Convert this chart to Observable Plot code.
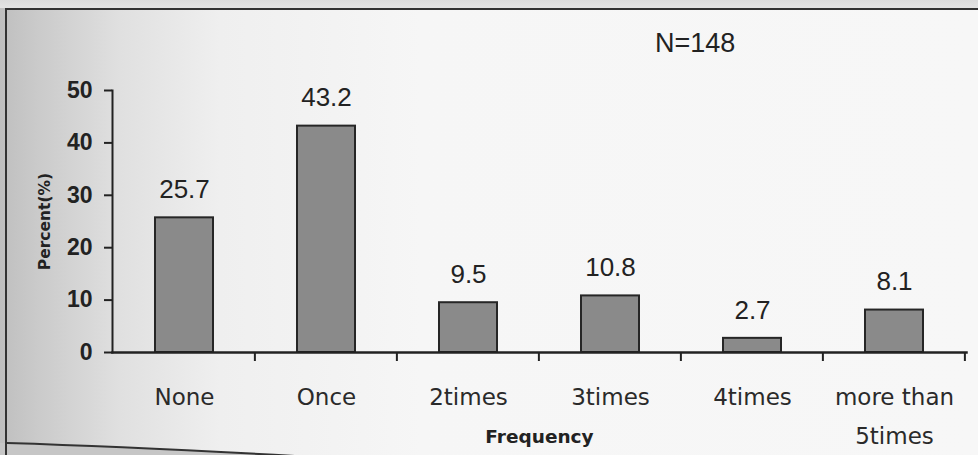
<!DOCTYPE html>
<html>
<head>
<meta charset="utf-8">
<script src="https://cdn.jsdelivr.net/npm/d3@7"></script>
<script src="https://cdn.jsdelivr.net/npm/@observablehq/plot@0.6"></script>
<style>
  html, body { margin: 0; padding: 0; }
  body { width: 978px; height: 455px; overflow: hidden; background: #d4d4d4; }
  #page {
    position: relative; width: 978px; height: 455px;
    background: linear-gradient(to bottom, #dcdcdc 0px, #e4e4e4 8px, transparent 8px),
                linear-gradient(to right, #bfbfbf 0px, #cbcbcb 40px, #e0e0e0 120px, #efefef 220px, #f6f6f6 420px, #f7f7f7 978px);
  }
  #frame {
    position: absolute; left: 5px; top: 8px; width: 990px; height: 500px;
    border-top: 2px solid #333; border-left: 2px solid #333;
  }
  #edge { position: absolute; left: 0; top: 0; }
  #n {
    position: absolute; left: 655px; top: 28px;
    font: 27px "Liberation Sans", Arial, sans-serif; color: #222;
  }
  #chart { position: absolute; left: 0; top: 0; }
</style>
</head>
<body>
<div id="page">
  <svg id="edge" width="978" height="455">
    <path d="M0,443 L7,443 Q140,447 330,458 L0,458 Z" fill="#c6c6c6"/>
    <path d="M7,443 Q140,447 330,458" fill="none" stroke="#333" stroke-width="2"/>
  </svg>
  <div id="frame"></div>
  <div id="n">N=148</div>
  <div id="chart"></div>
</div>
<script>
// Number of times, share of respondents (%)
const categories = ["None", "Once", "2times", "3times", "4times", "more than 5times"];
const percents = [25.7, 43.2, 9.5, 10.8, 2.7, 8.1];
const yTicks = [0, 10, 20, 30, 40, 50];

const data = categories.map((c, i) => ({category: c, percent: percents[i]}));

const ink = "#222";

// Short ticks under the x axis at the edges between categories
const edgeTicks = (index, scales, values, dimensions) => {
  const g = d3.create("svg:g").attr("stroke", ink).attr("stroke-width", 2);
  const x = scales.x, y = scales.y;
  const half = x.step() * 0.59 / 2;
  const y0 = y(0);
  for (const c of categories) {
    const xe = x(c) + x.bandwidth() + half;
    g.append("line").attr("x1", xe).attr("x2", xe).attr("y1", y0).attr("y2", y0 + 9);
  }
  return g.node();
};

const chart = Plot.plot({
  width: 978,
  height: 455,
  marginLeft: 112,
  marginRight: 12,
  marginTop: 90,
  marginBottom: 103,
  style: {background: "transparent", color: ink, overflow: "visible"},
  x: {domain: categories, paddingInner: 0.59, paddingOuter: 0.295},
  y: {domain: [0, 50]},
  marks: [
    Plot.barY(data, {x: "category", y: "percent", fill: "#8a8a8a", stroke: "#262626", strokeWidth: 2}),
    Plot.text(data, {
      x: "category", y: "percent", text: d => d.percent.toFixed(1),
      dy: -28, fontSize: 26, fontFamily: "Liberation Sans, Arial, sans-serif", fill: ink
    }),
    Plot.frame({anchor: "left", stroke: ink, strokeWidth: 2}),
    Plot.frame({anchor: "bottom", stroke: ink, strokeWidth: 2.5}),
    Plot.axisY({
      ticks: yTicks, tickSize: 8, tickPadding: 12, label: null,
      fontSize: 23, fontWeight: "bold", fontFamily: "Liberation Sans, Arial, sans-serif",
      stroke: ink, strokeWidth: 2
    }),
    Plot.axisX({
      tickSize: 0, tickPadding: 25, label: null, fill: "#2a2a2a",
      fontSize: 23, fontFamily: "DejaVu Sans, sans-serif", lineHeight: 1.7,
      tickFormat: d => d.replace(" 5", "\n5")
    }),
    edgeTicks,
    Plot.text(["Percent(%)"], {
      frameAnchor: "left", textAnchor: "middle", dx: -67, rotate: -90, text: d => d,
      fontSize: 15.5, fontWeight: "bold", fontFamily: "DejaVu Sans, sans-serif", fill: ink
    }),
    Plot.text(["Frequency"], {
      frameAnchor: "bottom", dy: 90, text: d => d,
      fontSize: 18.5, fontWeight: "bold", fontFamily: "DejaVu Sans, sans-serif", fill: ink
    })
  ]
});

document.getElementById("chart").appendChild(chart);
</script>
</body>
</html>
